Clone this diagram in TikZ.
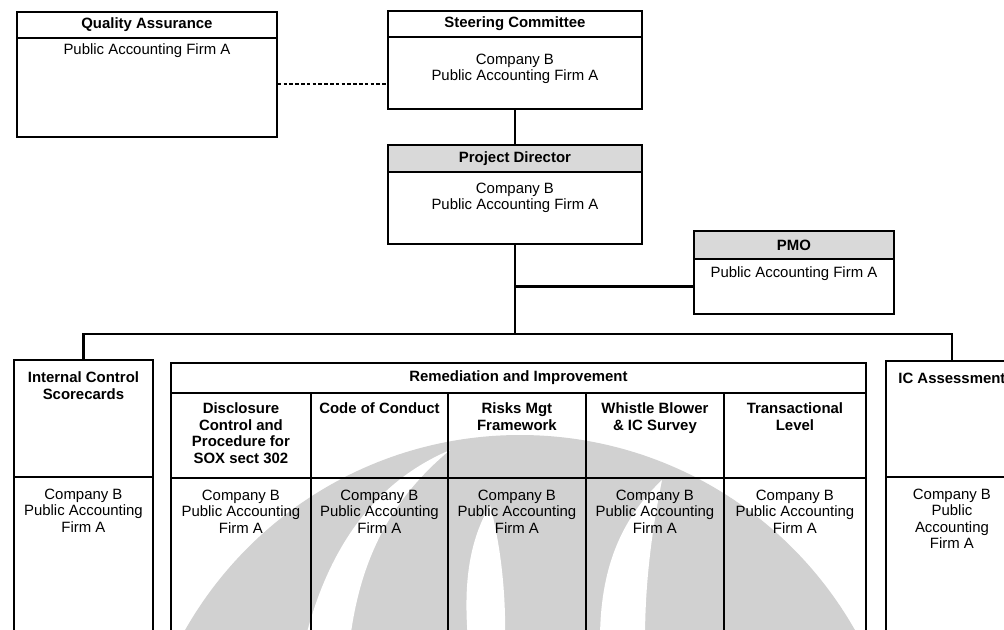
\documentclass[tikz,border=0pt]{standalone}
\usepackage{fontspec}
\setmainfont{Liberation Sans}

\begin{document}
\begin{tikzpicture}[x=0.02cm, y=-0.02cm, line width=1.1pt,
  orgbox/.style={draw, anchor=north west, inner sep=0pt},
  headfill/.style={fill=black!15},
  headtext/.style={font={\bfseries\fontsize{8.5}{9.4}\selectfont}, align=center, inner sep=0pt},
  bodytext/.style={font={\fontsize{8.5}{9.4}\selectfont}, align=center, anchor=north, inner sep=0pt},
  linkline/.style={line width=1.3pt},
  dotline/.style={line width=1.4pt, dash pattern=on 2pt off 1.3pt}]

\useasboundingbox (0,0) rectangle (1004,629);
\clip (0,0) rectangle (1004,629);

% watermark behind the lower boxes
\fill[black!18] (520,820) circle [radius=385];
\fill[white] (305,640) .. controls (330,540) and (380,480) .. (450,450)
  .. controls (390,500) and (360,560) .. (350,640) -- cycle;
\fill[white] (468,640) .. controls (463,580) and (470,540) .. (490,505)
  .. controls (502,550) and (506,600) .. (505,640) -- cycle;
\fill[white] (600,640) .. controls (600,570) and (620,520) .. (662,480)
  .. controls (650,540) and (645,590) .. (645,640) -- cycle;

% top boxes
\node[orgbox, minimum width=5.2cm, minimum height=0.52cm] (qa-head) at (16,11) {};
\node[headtext] at (qa-head) {Quality Assurance};
\node[orgbox, minimum width=5.2cm, minimum height=1.98cm] (qa-body) at (16,37) {};
\node[bodytext] (qa-text) at ([yshift=-0.12cm]qa-body.north) {Public Accounting Firm A};

\node[orgbox, minimum width=5.08cm, minimum height=0.52cm] (sc-head) at (387,10) {};
\node[headtext] at (sc-head) {Steering Committee};
\node[orgbox, minimum width=5.08cm, minimum height=1.44cm] (sc-body) at (387,36) {};
\node[bodytext] (sc-text) at ([yshift=-0.34cm]sc-body.north) {Company B\\Public Accounting Firm A};

\node[orgbox, headfill, minimum width=5.08cm, minimum height=0.54cm] (pd-head) at (387,144) {};
\node[headtext] at (pd-head) {Project Director};
\node[orgbox, minimum width=5.08cm, minimum height=1.44cm] (pd-body) at (387,171) {};
\node[bodytext] (pd-text) at ([yshift=-0.22cm]pd-body.north) {Company B\\Public Accounting Firm A};

\node[orgbox, headfill, minimum width=4cm, minimum height=0.56cm] (pmo-head) at (693,230) {};
\node[headtext] at (pmo-head) {PMO};
\node[orgbox, minimum width=4cm, minimum height=1.1cm] (pmo-body) at (693,258) {};
\node[bodytext] (pmo-text) at ([yshift=-0.16cm]pmo-body.north) {Public Accounting Firm A};

% lower boxes
\node[orgbox, minimum width=2.78cm, minimum height=2.34cm] (ics-head) at (13,359) {};
\node[headtext, anchor=north] at ([yshift=-0.24cm]ics-head.north) {Internal Control\\Scorecards};
\node[orgbox, minimum width=2.78cm, minimum height=4.6cm] (ics-body) at (13,476) {};
\node[bodytext] (ics-text) at ([yshift=-0.24cm]ics-body.north) {Company B\\Public Accounting\\Firm A};

\node[orgbox, minimum width=13.9cm, minimum height=0.6cm] (rem-head) at (170,362) {};
\node[headtext] at (rem-head) {Remediation and Improvement};

\node[orgbox, minimum width=2.8cm, minimum height=1.7cm] (dc-head) at (170,392) {};
\node[headtext, anchor=north] at ([yshift=-0.2cm]dc-head.north) {Disclosure\\Control and\\Procedure for\\SOX sect 302};
\node[orgbox, minimum width=2.74cm, minimum height=1.7cm] (cc-head) at (310,392) {};
\node[headtext, anchor=north] at ([yshift=-0.2cm]cc-head.north) {Code of Conduct};
\node[orgbox, minimum width=2.76cm, minimum height=1.7cm] (rm-head) at (447,392) {};
\node[headtext, anchor=north] at ([yshift=-0.2cm]rm-head.north) {Risks Mgt\\Framework};
\node[orgbox, minimum width=2.76cm, minimum height=1.7cm] (wb-head) at (585,392) {};
\node[headtext, anchor=north] at ([yshift=-0.2cm]wb-head.north) {Whistle Blower\\\& IC Survey};
\node[orgbox, minimum width=2.84cm, minimum height=1.7cm] (tl-head) at (723,392) {};
\node[headtext, anchor=north] at ([yshift=-0.2cm]tl-head.north) {Transactional\\Level};

\node[orgbox, minimum width=2.8cm, minimum height=4.6cm] (dc-body) at (170,477) {};
\node[bodytext] at ([yshift=-0.24cm]dc-body.north) {Company B\\Public Accounting\\Firm A};
\node[orgbox, minimum width=2.74cm, minimum height=4.6cm] (cc-body) at (310,477) {};
\node[bodytext] at ([yshift=-0.24cm]cc-body.north) {Company B\\Public Accounting\\Firm A};
\node[orgbox, minimum width=2.76cm, minimum height=4.6cm] (rm-body) at (447,477) {};
\node[bodytext] at ([yshift=-0.24cm]rm-body.north) {Company B\\Public Accounting\\Firm A};
\node[orgbox, minimum width=2.76cm, minimum height=4.6cm] (wb-body) at (585,477) {};
\node[bodytext] at ([yshift=-0.24cm]wb-body.north) {Company B\\Public Accounting\\Firm A};
\node[orgbox, minimum width=2.84cm, minimum height=4.6cm] (tl-body) at (723,477) {};
\node[bodytext] at ([yshift=-0.24cm]tl-body.north) {Company B\\Public Accounting\\Firm A};

\node[orgbox, minimum width=2.64cm, minimum height=2.32cm] (ica-head) at (885,360) {};
\node[headtext, anchor=north] at ([yshift=-0.24cm]ica-head.north) {IC Assessment};
\node[orgbox, minimum width=2.64cm, minimum height=4.6cm] (ica-body) at (885,476) {};
\node[bodytext] (ica-text) at ([yshift=-0.24cm]ica-body.north) {Company B\\Public\\Accounting\\Firm A};

% connectors
\coordinate (bus-mid) at (pd-body.south |- 0,334);
\draw[dotline] (qa-body.east |- 0,84) -- (sc-body.west |- 0,84);
\draw[linkline] (sc-body.south) -- (pd-head.north);
\draw[linkline] (pd-body.south) -- (bus-mid);
\draw[linkline] (pmo-body.west) -- (pd-body.south |- pmo-body.west);
\draw[linkline] (ics-head.north) |- (bus-mid) -| (ica-head.north);

\end{tikzpicture}
\end{document}
